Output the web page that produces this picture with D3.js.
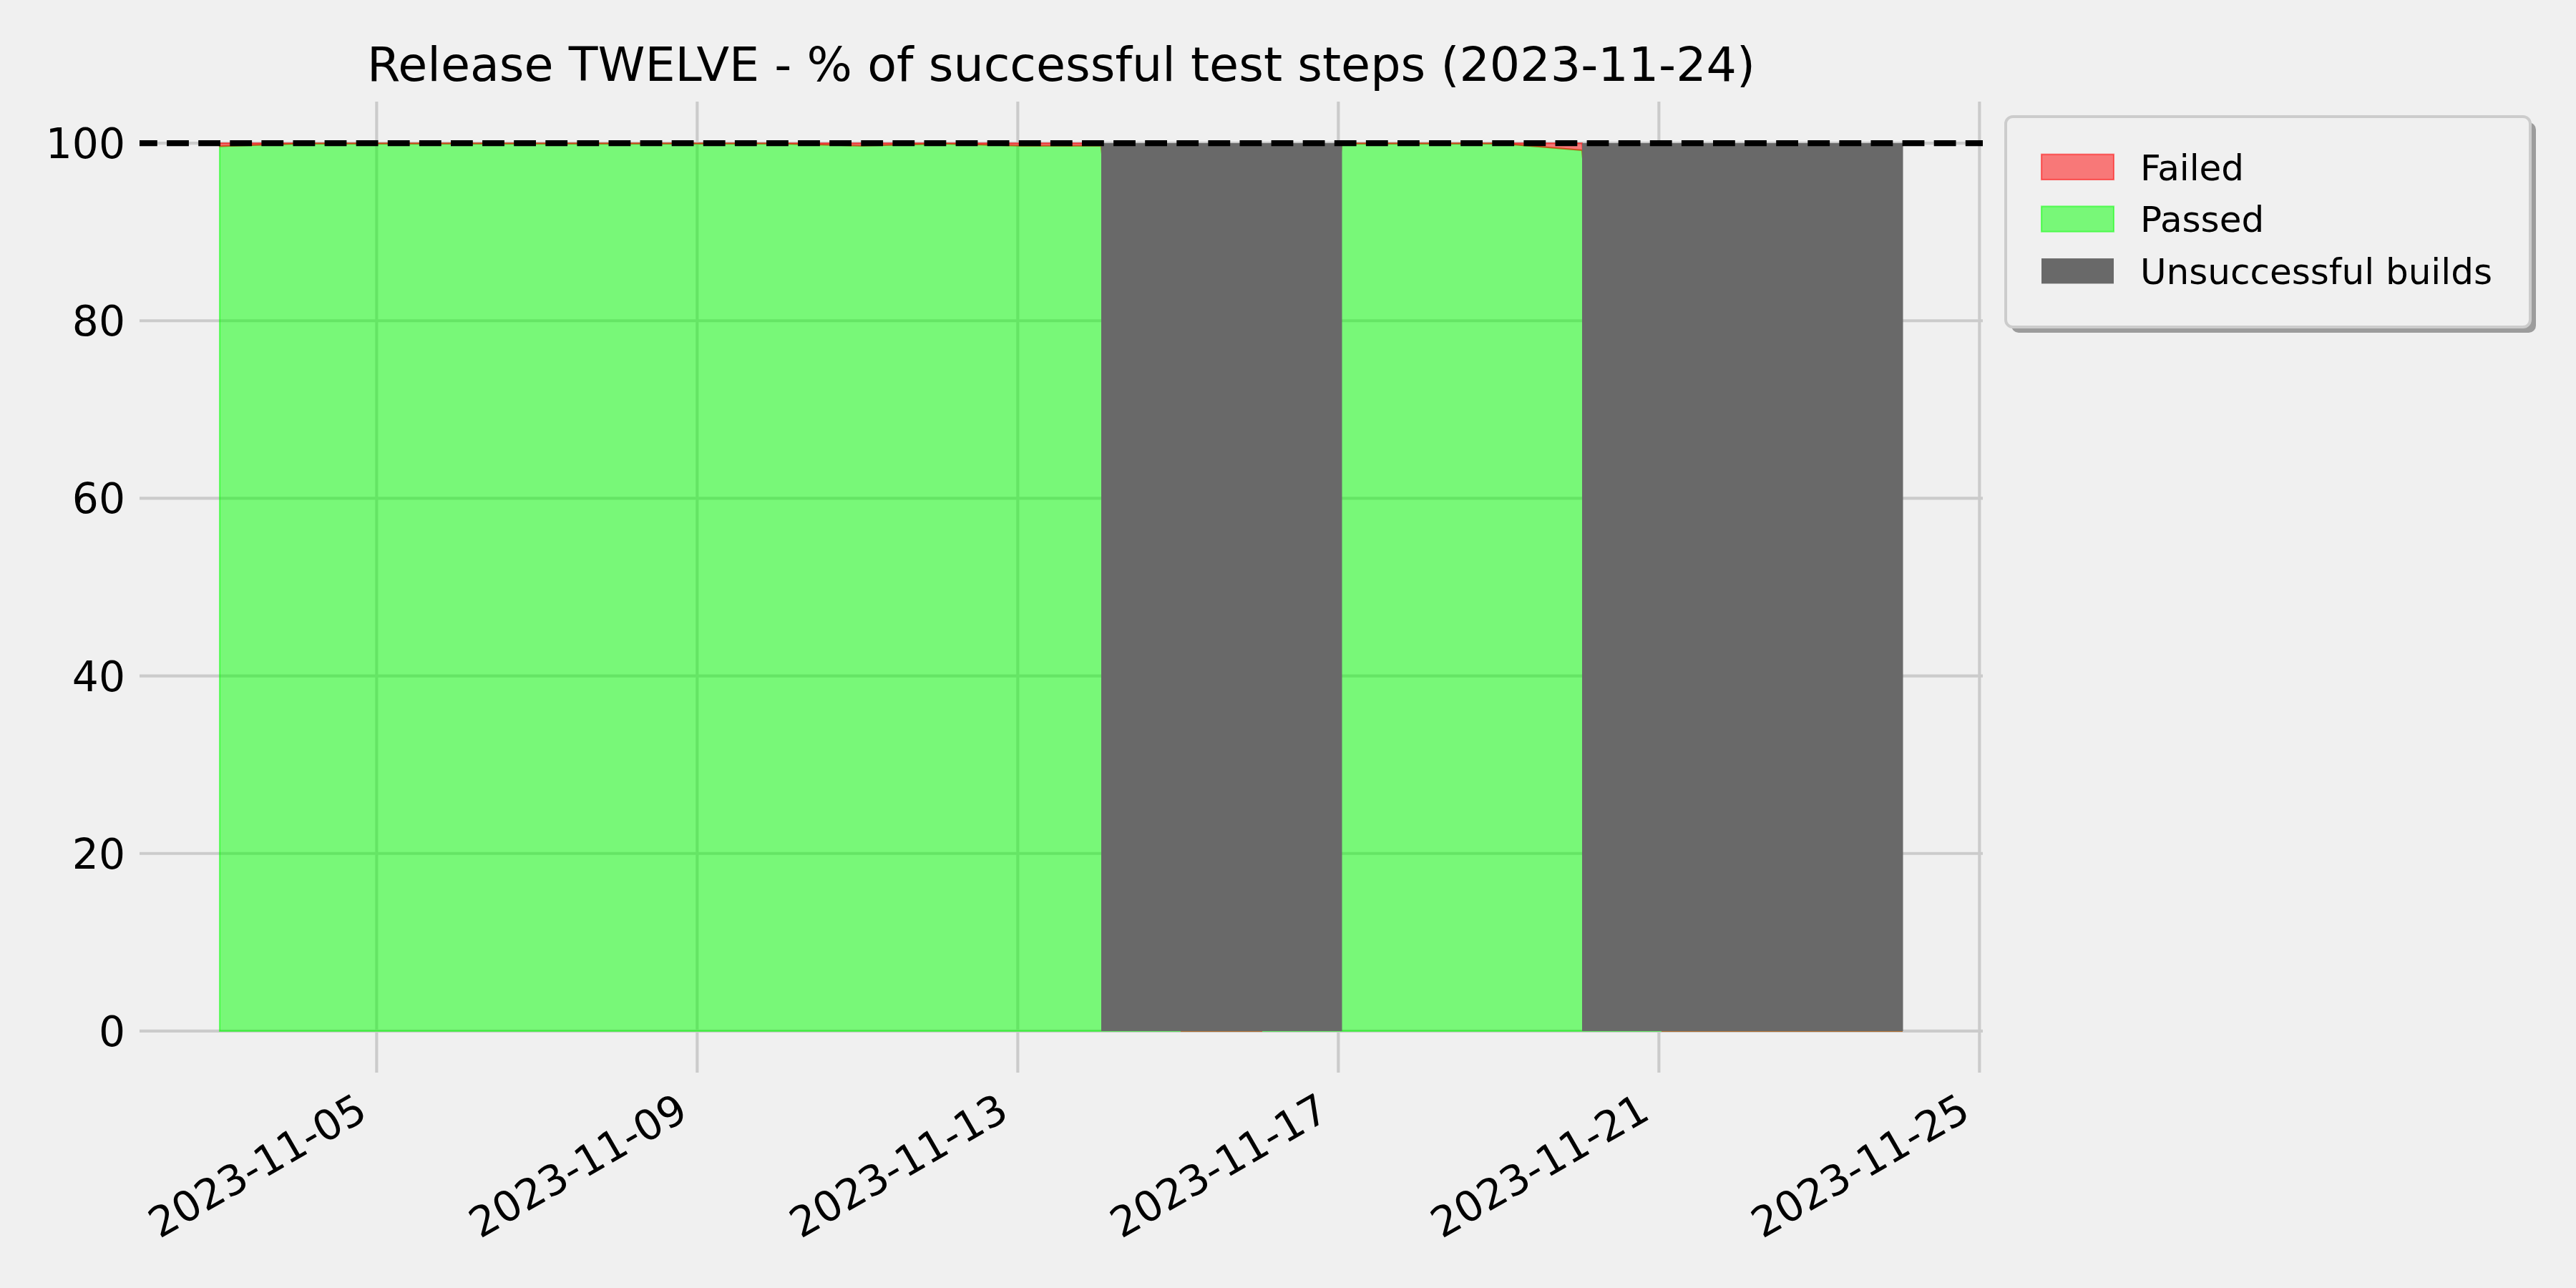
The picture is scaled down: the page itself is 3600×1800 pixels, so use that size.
<!DOCTYPE html>
<html>
<head>
<meta charset="utf-8">
<script src="https://cdn.jsdelivr.net/npm/d3@7"></script>
<style>
  html, body { margin: 0; padding: 0; background: #f0f0f0; }
  svg { display: block; }
  text { font-family: "DejaVu Sans", sans-serif; fill: #000; }
</style>
</head>
<body>
<script>
// ---- data ----
const dates = ["2023-11-03","2023-11-04","2023-11-05","2023-11-06","2023-11-07","2023-11-08",
  "2023-11-09","2023-11-10","2023-11-11","2023-11-12","2023-11-13","2023-11-14","2023-11-15",
  "2023-11-16","2023-11-17","2023-11-18","2023-11-19","2023-11-20","2023-11-21","2023-11-22",
  "2023-11-23","2023-11-24"];
const failed = [0.35,0.05,0.05,0.05,0.05,0.05,0.05,0.05,0.3,0.05,0.3,0.3,0,0,0.05,0.05,0.05,0.8,0,0,0,0];
const passed = [99.65,99.95,99.95,99.95,99.95,99.95,99.95,99.95,99.7,99.95,99.7,99.7,0,0,99.95,99.95,99.95,99.2,0,0,0,0];
const unsuccessfulDays = ["2023-11-14","2023-11-15","2023-11-16","2023-11-20","2023-11-21","2023-11-22","2023-11-23"];
const unsuccessfulValue = 100;
const targetValue = 100;
const xTickLabels = ["2023-11-05","2023-11-09","2023-11-13","2023-11-17","2023-11-21","2023-11-25"];
const yTicks = [0, 20, 40, 60, 80, 100];
const legendLabels = ["Failed", "Passed", "Unsuccessful builds"];
const titleText = "Release TWELVE - % of successful test steps (2023-11-24)";

// ---- layout ----
const W = 3600, H = 1800;
const L = 195, R = 2771, T = 138, B = 1503;
const buildTime = "T01:00:00";
const parseT = d3.isoParse;

const svg = d3.select("body").append("svg").attr("width", W).attr("height", H);
svg.append("rect").attr("width", W).attr("height", H).attr("fill", "#f0f0f0");

const rows = dates.map((d, i) => ({ date: parseT(d + buildTime), passed: passed[i], failed: failed[i] }));
const day = 24 * 3600 * 1000;
const ext = d3.extent(rows, r => r.date);
const x = d3.scaleTime().domain([new Date(+ext[0] - day), new Date(+ext[1] + day)]).range([L, R]);
const y = d3.scaleLinear().domain([-5, 105]).range([B, T]);

const gridColor = "#cbcbcb", gridW = 4.17;
// grid
const xTicks = xTickLabels.map(s => parseT(s + "T00:00:00"));
svg.append("g").selectAll("line").data(yTicks).join("line")
  .attr("x1", L).attr("x2", R).attr("y1", d => y(d)).attr("y2", d => y(d))
  .attr("stroke", gridColor).attr("stroke-width", gridW);
svg.append("g").selectAll("line").data(xTicks).join("line")
  .attr("x1", d => x(d)).attr("x2", d => x(d)).attr("y1", T + 4).attr("y2", B - 4)
  .attr("stroke", gridColor).attr("stroke-width", gridW);

// stack
const stack = d3.stack().keys(["passed", "failed"]);
const series = stack(rows);
const colors = { passed: "#00ff00", failed: "#ff0000" };
const area = d3.area().x(d => x(d.data.date)).y0(d => y(d[0])).y1(d => y(d[1]));
svg.append("g").selectAll("path").data(series).join("path")
  .attr("d", area)
  .attr("fill", s => colors[s.key]).attr("fill-opacity", 0.5)
  .attr("stroke", s => colors[s.key]).attr("stroke-opacity", 0.5).attr("stroke-width", 2.1)
  .attr("stroke-linejoin", "miter");

// unsuccessful builds bars
svg.append("g").selectAll("rect").data(unsuccessfulDays).join("rect")
  .attr("x", d => x(parseT(d + buildTime)))
  .attr("width", d => x(new Date(+parseT(d + buildTime) + day)) - x(parseT(d + buildTime)) + 0.5)
  .attr("y", y(unsuccessfulValue)).attr("height", y(0) - y(unsuccessfulValue))
  .attr("fill", "#696969");

// target dashed line
svg.append("line").attr("x1", L).attr("x2", R).attr("y1", y(targetValue)).attr("y2", y(targetValue))
  .attr("stroke", "#000").attr("stroke-width", 8.33)
  .attr("stroke-dasharray", "30.8 13.3").attr("stroke-dashoffset", 6);

// y tick labels
svg.append("g").selectAll("text").data(yTicks).join("text")
  .attr("x", 175).attr("y", d => y(d) + 21)
  .attr("text-anchor", "end").attr("font-size", 58.3).text(d => d);

// x tick labels
svg.append("g").selectAll("text").data(xTicks).join("text")
  .attr("transform", (d) => `translate(${x(d) - 10},1562) rotate(-30)`)
  .attr("text-anchor", "end").attr("font-size", 58.3)
  .text((d, i) => xTickLabels[i]);

// title
svg.append("text").attr("x", (L + R) / 2).attr("y", 113).attr("text-anchor", "middle")
  .attr("font-size", 66.7).text(titleText);

// legend
const lg = svg.append("g");
const lx = 2803, ly = 163, lw = 733, lh = 294;
lg.append("rect").attr("x", lx + 8).attr("y", ly + 8).attr("width", lw).attr("height", lh)
  .attr("rx", 10).attr("fill", "#9c9c9c");
lg.append("rect").attr("x", lx).attr("y", ly).attr("width", lw).attr("height", lh)
  .attr("rx", 10).attr("fill", "#f0f0f0").attr("stroke", "#cccccc").attr("stroke-width", 4);
const legendStyles = [
  { fill: "#ff0000", op: 0.5, stroke: "#ff0000" },
  { fill: "#00ff00", op: 0.5, stroke: "#00ff00" },
  { fill: "#696969", op: 1, stroke: "none" }
];
legendLabels.forEach((lab, i) => {
  const ry = 215.7 + i * 72.7;
  const st = legendStyles[i];
  lg.append("rect").attr("x", 2853).attr("y", ry).attr("width", 101).attr("height", 35.3)
    .attr("fill", st.fill).attr("fill-opacity", st.op)
    .attr("stroke", st.stroke).attr("stroke-opacity", 0.5).attr("stroke-width", 2.1);
  lg.append("text").attr("x", 2991).attr("y", ry + 36).attr("font-size", 50).text(lab);
});
</script>
</body>
</html>
